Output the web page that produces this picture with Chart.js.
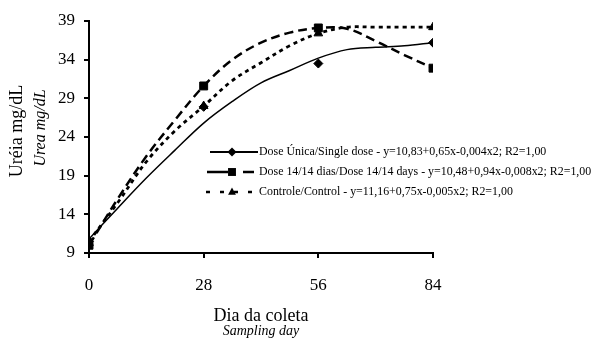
<!DOCTYPE html>
<html>
<head>
<meta charset="utf-8">
<script src="https://cdn.jsdelivr.net/npm/chart.js@4/dist/chart.umd.min.js"></script>
<style>
html,body{margin:0;padding:0;background:#fff;}
#wrap{width:600px;height:339px;position:relative;}
</style>
</head>
<body>
<div id="wrap"><canvas id="c" width="600" height="339"></canvas></div>
<script>
// ---- data ----
const curveDays   = [0, 7, 14, 21, 28, 35, 42, 49, 56, 63, 70, 77, 84];
const unicaCurve  = [10.8, 14.8, 18.7, 22.3, 25.8, 28.6, 31.0, 32.6, 34.2, 35.3, 35.6, 35.8, 36.2];
const dose14Curve = [10.0, 16.0, 21.5, 26.2, 30.6, 34.0, 36.2, 37.5, 38.1, 38.0, 36.4, 34.6, 32.9];
const controlCurve= [10.5, 15.5, 20.8, 24.8, 28.0, 31.3, 33.6, 35.8, 37.4, 38.2, 38.2, 38.2, 38.2];

const markerDays    = [0, 28, 56, 84];
const unicaPoints   = [10.5, 27.9, 33.5, 36.2];
const dose14Points  = [10.0, 30.6, 38.1, 32.9];
const controlPoints = [10.3, 28.0, 37.4, 38.2];

const seriesNames = [
  'Dose Única/Single dose - y=10,83+0,65x-0,004x2; R2=1,00',
  'Dose 14/14 dias/Dose 14/14 days - y=10,48+0,94x-0,008x2; R2=1,00',
  'Controle/Control - y=11,16+0,75x-0,005x2; R2=1,00'
];
const xTicks = [0, 28, 56, 84];
const yTicks = [9, 14, 19, 24, 29, 34, 39];
const yTitle = 'Uréia mg/dL';
const yTitle2 = 'Urea mg/dL';
const xTitle = 'Dia da coleta';
const xTitle2 = 'Sampling day';

const SERIF = '"Liberation Serif", "DejaVu Serif", serif';
const styles = [
  {dash: [], width: 1.5, point: 'rectRot', radius: 4.5},
  {dash: [9, 5], width: 2.5, point: 'rect', radius: 5.6},
  {dash: [4, 4], width: 2.8, point: 'triangle', radius: 5}
];

function pairs(xs, ys){ return xs.map((x,i)=>({x:x, y:ys[i]})); }

const curves = [unicaCurve, dose14Curve, controlCurve];
const points = [unicaPoints, dose14Points, controlPoints];
const datasets = [];
curves.forEach((c,i)=>{
  datasets.push({
    label: seriesNames[i],
    data: pairs(curveDays, c),
    borderColor: '#000', backgroundColor: '#000',
    borderWidth: styles[i].width, borderDash: styles[i].dash,
    pointRadius: 0, tension: 0.35, showLine: true, fill: false
  });
});
points.forEach((p,i)=>{
  datasets.push({
    label: seriesNames[i] + ' pts',
    data: pairs(markerDays, p),
    showLine: false,
    pointStyle: styles[i].point, pointRadius: styles[i].radius,
    pointBackgroundColor: '#000', pointBorderColor: '#000', pointBorderWidth: 1
  });
});

function drawMarker(ctx, style, x, y, r){
  ctx.save();
  ctx.fillStyle = '#000';
  ctx.beginPath();
  if (style === 'rectRot'){
    ctx.moveTo(x, y-r); ctx.lineTo(x+r, y); ctx.lineTo(x, y+r); ctx.lineTo(x-r, y);
  } else if (style === 'rect'){
    const s = r*Math.SQRT1_2; ctx.rect(x-s, y-s, 2*s, 2*s);
  } else {
    ctx.moveTo(x, y-r); ctx.lineTo(x+r*0.87, y+r*0.6); ctx.lineTo(x-r*0.87, y+r*0.6);
  }
  ctx.closePath(); ctx.fill();
  ctx.restore();
}

const decor = {
  id: 'decor',
  afterDraw(chart){
    const ctx = chart.ctx;
    ctx.save();
    // legend
    const rowsY = [152, 172, 192];
    ctx.font = '11.9px ' + SERIF;
    ctx.fillStyle = '#000';
    ctx.textBaseline = 'middle';
    ctx.textAlign = 'left';
    seriesNames.forEach((name,i)=>{
      const y = rowsY[i];
      ctx.save();
      ctx.strokeStyle = '#000';
      ctx.lineWidth = i===0 ? 2 : 2.5;
      if (i===0){ ctx.setLineDash([]); ctx.beginPath(); ctx.moveTo(210,y); ctx.lineTo(258,y); ctx.stroke(); }
      else if (i===1){ ctx.setLineDash([]); ctx.beginPath(); ctx.moveTo(207,y); ctx.lineTo(228,y); ctx.moveTo(243,y); ctx.lineTo(254,y); ctx.stroke(); }
      else { ctx.setLineDash([4,10]); ctx.beginPath(); ctx.moveTo(206,y); ctx.lineTo(252,y); ctx.stroke(); }
      ctx.restore();
      drawMarker(ctx, styles[i].point, 232, y, i===1?5.6:4.5);
      ctx.fillText(name, 259, y);
    });
    // axis titles
    ctx.textAlign = 'center';
    ctx.font = '18px ' + SERIF;
    ctx.fillText(xTitle, 261, 316);
    ctx.font = 'italic 14px ' + SERIF;
    ctx.fillText(xTitle2, 261, 331);
    ctx.save();
    ctx.translate(17, 131); ctx.rotate(-Math.PI/2);
    ctx.font = '18px ' + SERIF;
    ctx.fillText(yTitle, 0, 0);
    ctx.restore();
    ctx.save();
    ctx.translate(41, 128); ctx.rotate(-Math.PI/2);
    ctx.font = 'italic 16px ' + SERIF;
    ctx.fillText(yTitle2, 0, 0);
    ctx.restore();
    ctx.restore();
  }
};

new Chart(document.getElementById('c'), {
  type: 'scatter',
  data: { datasets: datasets },
  options: {
    responsive: false, animation: false,
    layout: { padding: { left: 0, right: 167, top: 21, bottom: 0 } },
    plugins: { legend: { display: false }, tooltip: { enabled: false } },
    scales: {
      x: {
        type: 'linear', min: 0, max: 84,
        afterFit(s){ s.height = 86; },
        afterBuildTicks(s){ s.ticks = xTicks.map(v=>({value:v})); },
        ticks: { color: '#000', font: { family: SERIF, size: 17 }, padding: 17, maxRotation: 0 },
        grid: { drawOnChartArea: false, drawTicks: true, tickLength: 5, color: '#000', lineWidth: 2 },
        border: { display: true, color: '#000', width: 2 }
      },
      y: {
        type: 'linear', min: 9, max: 39,
        afterFit(s){ s.width = 89; },
        afterBuildTicks(s){ s.ticks = yTicks.map(v=>({value:v})); },
        ticks: { color: '#000', font: { family: SERIF, size: 17 }, padding: 9 },
        grid: { drawOnChartArea: false, drawTicks: true, tickLength: 5, color: '#000', lineWidth: 2 },
        border: { display: true, color: '#000', width: 2 }
      }
    }
  },
  plugins: [decor]
});
</script>
</body>
</html>
